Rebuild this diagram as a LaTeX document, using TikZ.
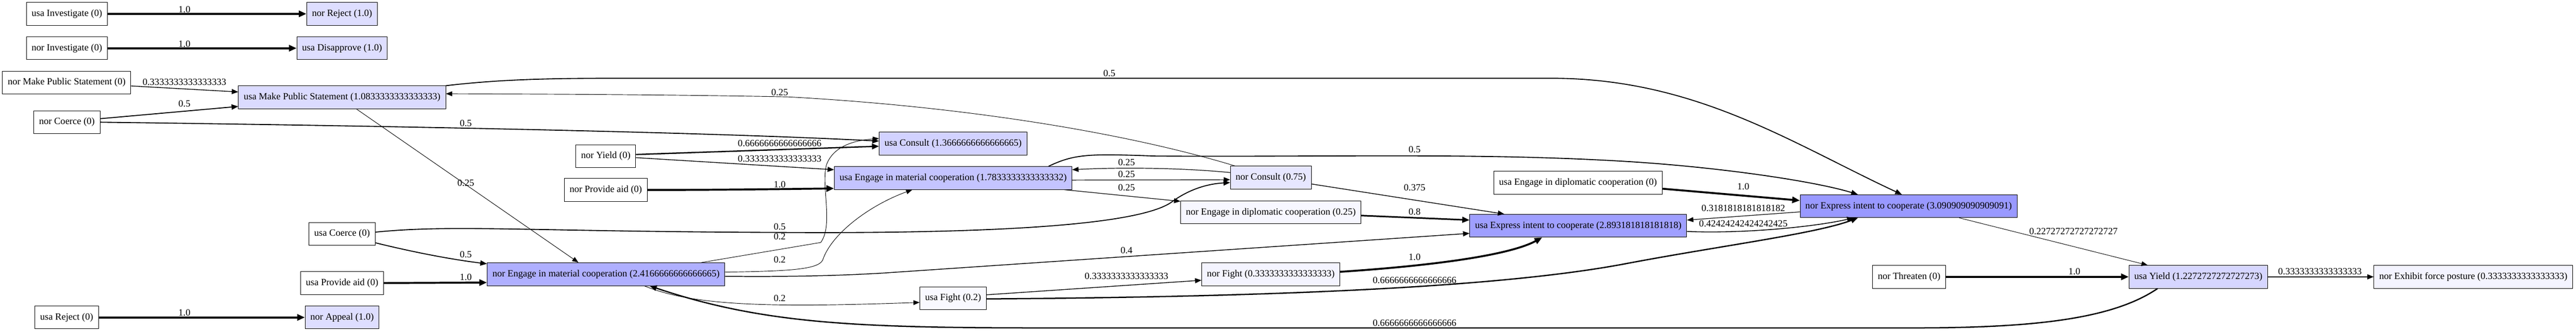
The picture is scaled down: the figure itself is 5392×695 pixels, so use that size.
\documentclass[tikz,border=0pt]{standalone}
\usepackage{fontspec}
\setmainfont{Liberation Serif}
\usetikzlibrary{arrows.meta}

\definecolor{hot}{RGB}{153,153,255}
\tikzset{
  act/.style={draw=black, line width=1pt, fill=#1, minimum height=48pt,
    inner xsep=11pt, inner ysep=0pt, font=\fontsize{20}{24}\selectfont},
  act/.default=white,
  flow/.style={draw=black, line width=#1, -{Triangle[length=12pt 1,width=9pt 1]}},
  flow/.default=1pt,
  wt/.style={font=\fontsize{20}{24}\selectfont, inner sep=0pt},
}

\begin{document}
\begin{tikzpicture}[x=1pt, y=-1pt]
\useasboundingbox (0,0) rectangle (5392,695);

% Actions, one column per rank
\node[act] (uInv) at (140,29) {usa Investigate (0)};
\node[act] (nInv) at (140,101) {nor Investigate (0)};
\node[act] (nMPS) at (139.5,173) {nor Make Public Statement (0)};
\node[act] (nCoe) at (140,256) {nor Coerce (0)};
\node[act] (uRej) at (139.5,665) {usa Reject (0)};

\node[act=hot!32!white] (nRej) at (716,29) {nor Reject (1.0)};
\node[act=hot!32!white] (uDis) at (716,101) {usa Disapprove (1.0)};
\node[act=hot!35!white] (uMPS) at (716,204) {usa Make Public Statement (1.0833333333333333)};
\node[act] (uCoe) at (716,490) {usa Coerce (0)};
\node[act] (uPro) at (716,593) {usa Provide aid (0)};
\node[act=hot!32!white] (nApp) at (716,665) {nor Appeal (1.0)};

\node[act] (nYie) at (1268,327) {nor Yield (0)};
\node[act] (nPro) at (1268,398) {nor Provide aid (0)};
\node[act=hot!78!white] (nEMC) at (1268.5,574.5) {nor Engage in material cooperation (2.4166666666666665)};

\node[act=hot!44!white] (uCon) at (1995,301) {usa Consult (1.3666666666666665)};
\node[act=hot!58!white] (uEMC) at (1995,373) {usa Engage in material cooperation (1.7833333333333332)};
\node[act=hot!6!white] (uFig) at (1995,625) {usa Fight (0.2)};

\node[act=hot!24!white] (nCon) at (2660,372) {nor Consult (0.75)};
\node[act=hot!8!white] (nEDC) at (2660,445) {nor Engage in diplomatic cooperation (0.25)};
\node[act=hot!11!white] (nFig) at (2660,574.5) {nor Fight (0.3333333333333333)};

\node[act] (uEDC) at (3303,383) {usa Engage in diplomatic cooperation (0)};
\node[act=hot!94!white] (uExp) at (3303.5,473) {usa Express intent to cooperate (2.893181818181818)};

\node[act=hot] (nExp) at (3995,432) {nor Express intent to cooperate (3.090909090909091)};
\node[act] (nThr) at (3996,580) {nor Threaten (0)};

\node[act=hot!40!white] (uYie) at (4601.5,580) {usa Yield (1.2272727272727273)};
\node[act=hot!11!white] (nExh) at (5177,580) {nor Exhibit force posture (0.3333333333333333)};

% Transitions
\draw[flow=4pt] (uInv) -- (nRej) node[wt] at (386,20) {1.0};
\draw[flow=4pt] (nInv) -- (uDis) node[wt] at (386,92) {1.0};
\draw[flow=1.5pt] (nMPS.-3) -- (uMPS.177) node[wt] at (386,172) {0.3333333333333333};
\draw[flow=2pt] (nCoe.6) -- (uMPS.185) node[wt] at (386,217) {0.5};
\draw[flow=4pt] (uRej) -- (nApp) node[wt] at (386,655) {1.0};

\draw[flow=2pt] (nCoe.east) .. controls (900,265) and (1500,278) .. (uCon.178) node[wt] at (975,258) {0.5};
\draw[flow=1pt] (uMPS.-39) -- (nEMC.157) node[wt] at (975,383) {0.25};
\draw[flow=2pt] (uMPS.north east) .. controls (1050,166) and (1150,164) .. (1300,164) -- (3250,164)
  .. controls (3550,165) and (3750,300) .. (nExp.120) node[wt] at (2322,154) {0.5};
\draw[flow=1pt] (nCon.162) .. controls (2380,285) and (2050,225) .. (1650,203)
  .. controls (1400,198) and (1100,197) .. (uMPS.2) node[wt] at (1632,193) {0.25};
\draw[flow=2pt] (uCoe.-15) .. controls (860,527) and (940,543) .. (nEMC.175) node[wt] at (975,533) {0.5};
\draw[flow=4pt] (uPro.east) -- (nEMC.184) node[wt] at (975,581) {1.0};

\draw[flow=2.7pt] (nYie.3) -- (uCon.182) node[wt] at (1632,300) {0.6666666666666666};
\draw[flow=1.5pt] (nYie.-3) -- (uEMC.176) node[wt] at (1632,333) {0.3333333333333333};
\draw[flow=4pt] (nPro.east) .. controls (1500,398) and (1650,396) .. (uEMC.185) node[wt] at (1632,387) {1.0};
\draw[flow=2pt] (uCoe.3) .. controls (950,470) and (1100,485) .. (1632,487)
  .. controls (2100,490) and (2380,470) .. (2450,425)
  .. controls (2490,395) and (2530,385) .. (nCon.187) node[wt] at (1632,475) {0.5};
\draw[flow=1pt] (nEMC.7.5) -- (1718,508) .. controls (1745,470) and (1718,390) .. (1730,345)
  .. controls (1745,305) and (1790,294) .. (uCon.176) node[wt] at (1632,496) {0.2};
\draw[flow=1pt] (nEMC.1) .. controls (1650,568) and (1712,565) .. (1722,545)
  .. controls (1740,490) and (1820,430) .. (uEMC.196) node[wt] at (1632,544) {0.2};
\draw[flow=1pt] (nEMC.-17) .. controls (1450,640) and (1600,645) .. (uFig.187) node[wt] at (1632,625) {0.2};
\draw[flow=1.6pt] (nEMC.-1) .. controls (1650,580) and (1750,578) .. (1850,572) -- (uExp.184) node[wt] at (2358,525) {0.4};

\draw[flow=2pt] (uEMC.7) .. controls (2250,322) and (2280,322) .. (2420,327)
  .. controls (2800,329) and (3100,320) .. (3400,338)
  .. controls (3600,350) and (3800,380) .. (nExp.167) node[wt] at (2961,313) {0.5};
\draw[flow=1.3pt] (nCon.173) .. controls (2480,352) and (2350,350) .. (uEMC.4) node[wt] at (2358,340) {0.25};
\draw[flow=1.3pt] (uEMC.-1) -- (nCon.-177) node[wt] at (2358,365) {0.25};
\draw[flow=1.3pt] (uEMC.-6) -- (nEDC.173) node[wt] at (2358,393) {0.25};
\draw[flow=1.5pt] (uFig.6) -- (nFig.185) node[wt] at (2358,579) {0.3333333333333333};

\draw[flow=1.5pt] (nCon.-9) -- (uExp.171) node[wt] at (2961,393) {0.375};
\draw[flow=3.2pt] (nEDC.-2) -- (uExp.177) node[wt] at (2961,444) {0.8};
\draw[flow=4pt] (nFig.2) .. controls (2950,560) and (3150,540) .. (uExp.198) node[wt] at (2961,539) {1.0};
\draw[flow=2.7pt] (uFig.-1) .. controls (2700,622) and (3150,600) .. (3400,553)
  .. controls (3600,515) and (3800,490) .. (nExp.193) node[wt] at (2961,587) {0.6666666666666666};

\draw[flow=4pt] (uEDC.-4) -- (nExp.177) node[wt] at (3649,391) {1.0};
\draw[flow=1.3pt] (nExp.183.5) -- (uExp.3) node[wt] at (3649,436) {0.3181818181818182};
\draw[flow=1.7pt] (uExp.-3.5) .. controls (3650,490) and (3800,475) .. (nExp.192) node[wt] at (3649,469) {0.42424242424242425};
\draw[flow=1pt] (nExp.-13.6) -- (uYie.167) node[wt] at (4340,485) {0.22727272727272727};
\draw[flow=4pt] (nThr) -- (uYie) node[wt] at (4342,569) {1.0};
\draw[flow=1.5pt] (uYie) -- (nExh) node[wt] at (4856,569) {0.3333333333333333};

% long way back along the bottom
\draw[flow=2.7pt] (uYie.196) .. controls (4420,670) and (4250,687) .. (4003,687) -- (2200,687)
  .. controls (1800,687) and (1600,680) .. (nEMC.-15) node[wt] at (2961,677) {0.6666666666666666};
\end{tikzpicture}
\end{document}
